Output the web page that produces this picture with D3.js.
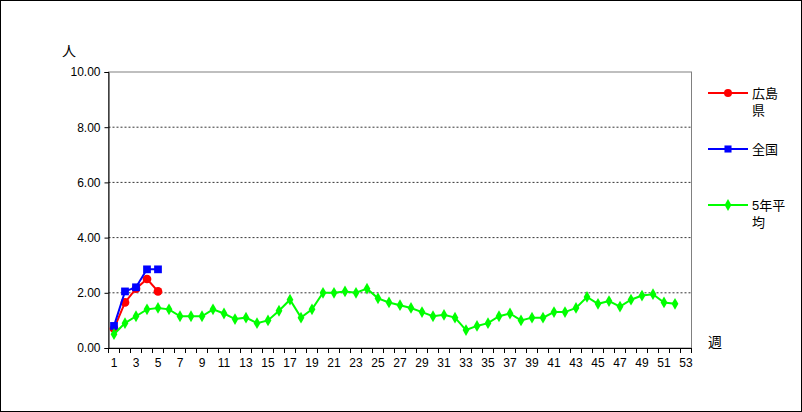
<!DOCTYPE html>
<html><head><meta charset="utf-8">
<script src="https://cdn.jsdelivr.net/npm/d3@7"></script>
<style>body{margin:0;background:#fff}svg{display:block;font-family:"Liberation Sans","Noto Sans CJK JP",sans-serif}</style>
</head><body><svg id="c" width="802" height="412"></svg>
<script>
const weeks = d3.range(1, 54)
const hiroshima = [0.7, 1.65, 2.15, 2.5, 2.05]
const zenkoku = [0.8, 2.05, 2.2, 2.85, 2.85]
const avg5 = [0.5, 0.9, 1.15, 1.4, 1.45, 1.4, 1.15, 1.15, 1.15, 1.4, 1.25, 1.05, 1.1, 0.9, 1.0, 1.35, 1.75, 1.1, 1.4, 2.0,
  2.0, 2.05, 2.0, 2.15, 1.8, 1.65, 1.55, 1.45, 1.3, 1.15, 1.2, 1.1, 0.65, 0.8, 0.9, 1.15, 1.25, 1.0, 1.1, 1.1,
  1.3, 1.3, 1.45, 1.85, 1.6, 1.7, 1.5, 1.75, 1.9, 1.95, 1.65, 1.6]
const yTicks = [0, 2, 4, 6, 8, 10]
const series = [
  { name: ['広島', '県'], values: hiroshima, color: '#ff0000', shape: 'circle' },
  { name: ['全国'], values: zenkoku, color: '#0000ff', shape: 'square' },
  { name: ['5年平', '均'], values: avg5, color: '#00ff00', shape: 'diamond' }
]

const svg = d3.select('#c')
svg.append('rect').attr('x', 0.5).attr('y', 0.5).attr('width', 801).attr('height', 411)
  .attr('fill', '#fff').attr('stroke', '#000')

const plot = { left: 108.5, right: 691.5, top: 72, bottom: 348 }
const x = d3.scaleBand().domain(weeks).range([plot.left, plot.right])
const y = d3.scaleLinear().domain([0, 10]).range([plot.bottom, plot.top])
const cx = d => x(d) + x.bandwidth() / 2

svg.append('rect').attr('x', plot.left).attr('y', plot.top)
  .attr('width', plot.right - plot.left).attr('height', plot.bottom - plot.top)
  .attr('fill', 'none').attr('stroke', '#808080')

svg.append('g').selectAll('line').data(yTicks.filter(t => t > 0 && t < 10)).join('line')
  .attr('x1', plot.left).attr('x2', plot.right).attr('y1', d => y(d)).attr('y2', d => y(d))
  .attr('stroke', '#000').attr('stroke-dasharray', '2,2').attr('stroke-width', 0.8)

const yAxis = svg.append('g').attr('transform', `translate(${plot.left},0)`)
  .call(d3.axisLeft(y).tickValues(yTicks).tickSize(4).tickFormat(d3.format('.2f')))
yAxis.select('.domain').attr('stroke', '#000')
yAxis.selectAll('text').attr('font-size', 12).attr('fill', '#000').attr('x', -8)

const xAxis = svg.append('g').attr('transform', `translate(0,${plot.bottom})`)
  .call(d3.axisBottom(x).tickSize(0).tickFormat(d => d % 2 ? d : ''))
xAxis.select('.domain').attr('stroke', '#000')
xAxis.selectAll('text').attr('font-size', 12).attr('fill', '#000').attr('dy', '1.3em')
svg.append('g').selectAll('line').data(d3.range(0, 54)).join('line')
  .attr('x1', i => plot.left + i * x.bandwidth()).attr('x2', i => plot.left + i * x.bandwidth())
  .attr('y1', plot.bottom).attr('y2', plot.bottom + 5).attr('stroke', '#000')

svg.append('text').attr('x', 62).attr('y', 56).attr('font-size', 14).text('人')
svg.append('text').attr('x', 708).attr('y', 347).attr('font-size', 14).text('週')

const symbol = { circle: d3.symbolCircle, square: d3.symbolSquare, diamond: d3.symbolDiamond }
const line = d3.line().x((d, i) => cx(i + 1)).y(d => y(d))
series.forEach((s, k) => {
  const g = svg.append('g')
  g.append('path').datum(s.values).attr('d', line).attr('fill', 'none')
    .attr('stroke', s.color).attr('stroke-width', 2)
  g.selectAll('path.m').data(s.values).join('path').attr('class', 'm')
    .attr('transform', (d, i) => `translate(${cx(i + 1)},${y(d)})`)
    .attr('d', d3.symbol(symbol[s.shape], s.shape === 'diamond' ? 40 : 60)).attr('fill', s.color)
  const ly = [93, 149, 205][k]
  svg.append('line').attr('x1', 708).attr('x2', 748).attr('y1', ly).attr('y2', ly)
    .attr('stroke', s.color).attr('stroke-width', 2)
  svg.append('path').attr('transform', `translate(728,${ly})`)
    .attr('d', d3.symbol(symbol[s.shape], s.shape === 'diamond' ? 40 : 50)).attr('fill', s.color)
  s.name.forEach((t, j) => svg.append('text').attr('x', 752).attr('y', ly + 5 + j * 17)
    .attr('font-size', 13).text(t))
})
</script></body></html>
